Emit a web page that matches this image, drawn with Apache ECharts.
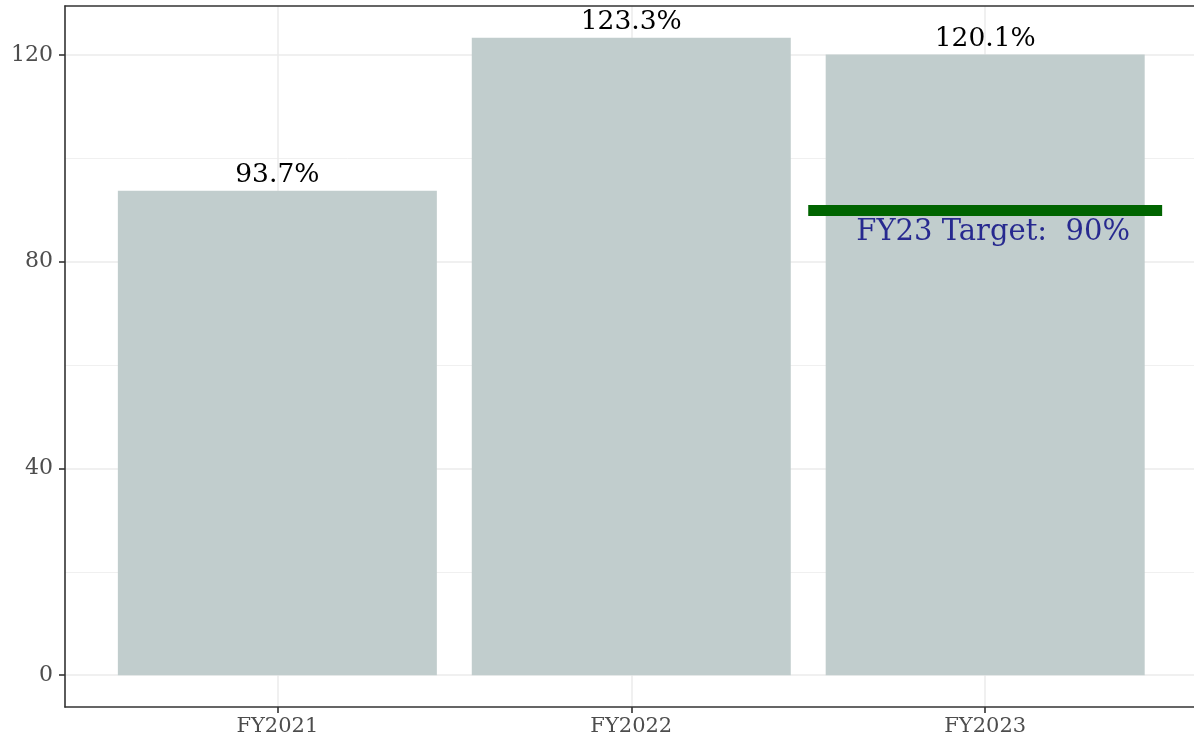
<!DOCTYPE html>
<html><head><meta charset="utf-8">
<script src="https://cdn.jsdelivr.net/npm/echarts@6/dist/echarts.min.js"></script>
<style>html,body{margin:0;padding:0;background:#fff}#c{width:1194px;height:744px}</style>
</head><body><div id="c"></div>
<script>
const categories = ['FY2021', 'FY2022', 'FY2023'];
const values = [93.7, 123.3, 120.1];
const yTicks = [0, 40, 80, 120];
const yMinorTicks = [20, 60, 100];
const targetValue = 90;
const targetCategoryIndex = 2;
const targetLabel = 'FY23 Target:  90%';
const targetLabelY = 86;

const xPos = categories.map((c, i) => i + 1);
const FONT = '"DejaVu Serif", serif';
const FRAME = {show: true, onZero: false, lineStyle: {color: '#333333', width: 1.6}};

const chart = echarts.init(document.getElementById('c'), null, {renderer: 'canvas'});
chart.setOption({
  animation: false,
  backgroundColor: '#ffffff',
  grid: {left: 65, top: 6, right: 0, bottom: 37, show: false},
  xAxis: [{
    type: 'value', min: 0.4, max: 3.59, position: 'bottom',
    axisLine: FRAME,
    axisTick: {show: true, customValues: xPos, length: 6, lineStyle: {color: '#333333', width: 1.6}},
    axisLabel: {customValues: xPos, formatter: v => categories[Math.round(v) - 1] || '', fontFamily: FONT, fontSize: 21, color: '#4d4d4d', margin: 9},
    splitLine: {show: true, lineStyle: {color: '#ebebeb', width: 1.5}}
  }, {
    type: 'value', min: 0.4, max: 3.59, position: 'top',
    axisLine: FRAME, axisTick: {show: false}, axisLabel: {show: false}, splitLine: {show: false}
  }],
  yAxis: [{
    type: 'value', min: -6.165, max: 129.465,
    axisLine: FRAME,
    axisTick: {show: true, customValues: yTicks, length: 6, lineStyle: {color: '#333333', width: 1.6}},
    axisLabel: {customValues: yTicks, fontFamily: FONT, fontSize: 22, color: '#4d4d4d', margin: 12},
    splitLine: {show: true, lineStyle: {color: '#ebebeb', width: 1.5}}
  }, {
    type: 'value', min: -6.165, max: 129.465, position: 'left',
    axisLine: {show: false}, axisTick: {show: false, customValues: yMinorTicks},
    axisLabel: {show: false, customValues: yMinorTicks},
    splitLine: {show: true, lineStyle: {color: '#f0f0f0', width: 1}}
  }],
  series: [{
    type: 'bar',
    data: xPos.map((x, i) => [x, values[i]]),
    barWidth: 319,
    itemStyle: {color: '#c1cdcd'},
    label: {show: true, position: 'top', distance: 2, formatter: p => p.value[1].toFixed(1) + '%', fontFamily: FONT, fontSize: 26.5, color: '#000000'},
    markLine: {
      silent: true, symbol: ['none', 'none'], label: {show: false},
      lineStyle: {color: '#006400', width: 11, type: 'solid'},
      data: [[{coord: [xPos[targetCategoryIndex] - 0.5, targetValue]}, {coord: [xPos[targetCategoryIndex] + 0.5, targetValue]}]]
    },
    z: 2
  }, {
    type: 'scatter',
    data: [[xPos[targetCategoryIndex], targetLabelY]],
    symbolSize: 0,
    silent: true,
    label: {show: true, position: 'inside', offset: [8, 2], formatter: targetLabel, fontFamily: FONT, fontSize: 29, color: '#000080'},
    z: 5
  }]
});
</script></body></html>
